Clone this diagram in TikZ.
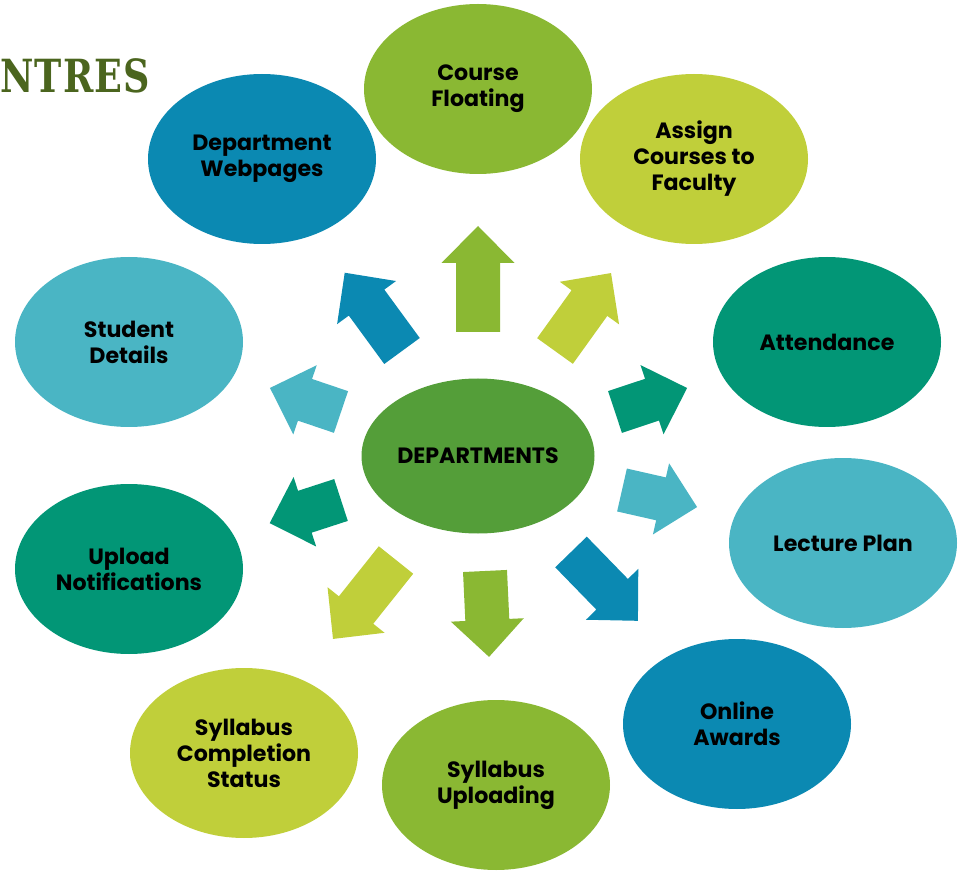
\documentclass[tikz,border=0pt]{standalone}
\usepackage{fontspec}
\usetikzlibrary{shapes.geometric}
\setmainfont{Poppins}
\newfontfamily\titlefont[LetterSpace=3]{DejaVu Serif}
\definecolor{leaf}{HTML}{8AB833}
\definecolor{sea}{HTML}{0B89B2}
\definecolor{lime}{HTML}{C0CF3A}
\definecolor{teal}{HTML}{029676}
\definecolor{sky}{HTML}{4AB5C4}
\definecolor{hubgreen}{HTML}{549E39}
\definecolor{olive}{HTML}{4B651E}

\begin{document}
\begin{tikzpicture}[x=0.02cm,y=-0.02cm,
    bubble/.style={ellipse,minimum width=228*0.02cm,minimum height=170*0.02cm,
        inner sep=0pt,align=center,font=\bfseries\fontsize{12.6}{14.8}\selectfont},
    hub/.style={bubble,minimum width=233*0.02cm,minimum height=155*0.02cm}]
        \useasboundingbox (0,0) rectangle (967,871);
        \node[anchor=west,inner sep=0pt,text=olive,font=\titlefont\bfseries\fontsize{26}{28}\selectfont] (title) at (0,76) {\scalebox{0.8}[1]{NTRES}};

        % outer ring
        \node[bubble,fill=leaf] (floating) at (478,89) {Course\\Floating};
        \node[bubble,fill=sea] (webpages) at (262,159) {Department\\Webpages};
        \node[bubble,fill=lime] (assign) at (694,159) {Assign\\Courses to\\Faculty};
        \node[bubble,fill=sky] (student) at (129,342) {Student\\Details};
        \node[bubble,fill=teal] (attendance) at (827,342) {Attendance};
        \node[bubble,fill=teal] (upload) at (129,569) {Upload\\Notifications};
        \node[bubble,fill=sky] (lecture) at (843,543) {Lecture Plan};
        \node[bubble,fill=sea] (awards) at (737,724) {Online\\Awards};
        \node[bubble,fill=lime] (completion) at (244,753) {Syllabus\\Completion\\Status};
        \node[bubble,fill=leaf] (uploading) at (496,785) {Syllabus\\Uploading};

        \node[hub,fill=hubgreen] (dept) at (478,456) {DEPARTMENTS};

        % block arrows: base x/y, angle, length, colour
        \foreach \x/\y/\a/\l/\c in {478/332/90/106/leaf, 402/351/126.2/97/sea,
            555/351/54.3/96/lime, 615/412/18.4/76/teal, 341/412/161.3/75/sky,
            622/490/-12.8/77/sky, 341/500/198/75/teal, 571/552/-45.8/96/sea,
            485/571/-87.3/86/leaf, 396/560/231.4/101/lime}
            \fill[\c,shift={(\x,\y)},rotate=\a] (0,-22) -- (\l-37,-22) -- (\l-37,-36.5)
                -- (\l,0) -- (\l-37,36.5) -- (\l-37,22) -- (0,22) -- cycle;
    \end{tikzpicture}
\end{document}
